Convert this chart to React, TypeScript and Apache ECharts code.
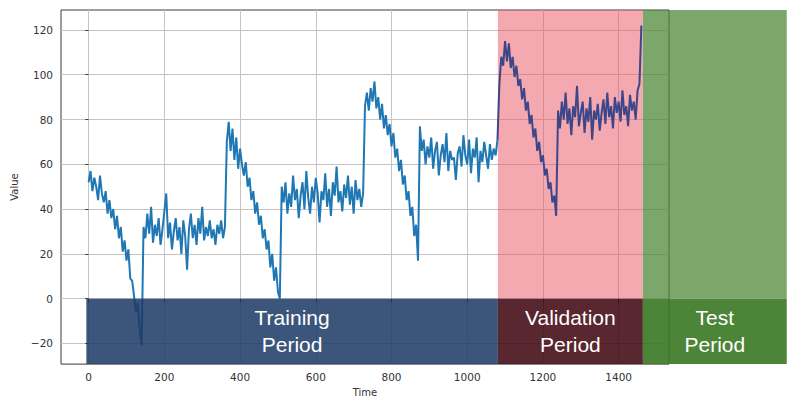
import React, { useEffect, useRef } from "react";
import * as echarts from "echarts";

const TIME_STEP = 5;
// t = 0 .. 140 : first decline
const seg1 = [52, 57, 48, 54, 50, 44, 55, 47, 43, 48, 38, 44, 36, 40, 31, 37, 27, 32, 21, 26, 17, 22, 9, 8, 1, -6, -2, -14, -21];
// t = 145 .. 360 : flat around 30
const seg2 = [32, 27, 38, 29, 41, 25, 33, 28, 36, 24, 31, 39, 47, 27, 34, 22, 30, 36, 26, 32, 20, 35, 28, 13, 31, 38, 27, 33, 24, 36, 29, 41, 26, 32, 28, 35, 27, 31, 24, 33, 29, 35, 27, 32];
// t = 365 .. 505 : second decline
const seg3 = [70, 79, 66, 76, 62, 72, 58, 67, 60, 55, 61, 50, 54, 44, 48, 38, 43, 33, 37, 27, 31, 22, 26, 14, 20, 8, 14, 3, 0];
// t = 510 .. 725 : flat around 46
const seg4 = [50, 43, 52, 38, 47, 41, 55, 44, 49, 36, 46, 52, 40, 57, 45, 38, 50, 43, 54, 47, 34, 48, 44, 56, 41, 49, 37, 52, 46, 59, 43, 48, 39, 51, 45, 55, 42, 50, 38, 53, 44, 49, 41, 47];
// t = 730 .. 870 : third decline
const seg5 = [86, 92, 84, 94, 88, 97, 85, 90, 80, 87, 76, 82, 73, 78, 68, 74, 63, 67, 57, 62, 51, 55, 44, 48, 37, 41, 28, 33, 17];
// t = 875 .. 1080 : flat around 65
const seg6 = [77, 66, 71, 60, 68, 63, 72, 58, 66, 70, 55, 64, 69, 61, 74, 57, 66, 62, 63, 53, 65, 68, 59, 73, 64, 60, 71, 56, 67, 63, 72, 52, 66, 61, 70, 64, 58, 69, 62, 67, 64, 71];
// t = 1085 .. 1235 : fourth decline
const seg7 = [96, 108, 104, 115, 106, 114, 103, 108, 99, 104, 95, 98, 89, 94, 84, 88, 78, 82, 72, 76, 66, 70, 61, 64, 55, 58, 49, 52, 43, 46, 37];
// t = 1240 .. 1460 : flat around 83, final jump
const seg8 = [84, 76, 88, 80, 92, 78, 85, 73, 86, 81, 95, 77, 83, 88, 74, 85, 79, 90, 71, 84, 80, 87, 75, 83, 89, 78, 92, 81, 86, 76, 90, 83, 88, 79, 93, 82, 86, 77, 91, 84, 88, 80, 93, 96, 122];

const VALUES = [...seg1, ...seg2, ...seg3, ...seg4, ...seg5, ...seg6, ...seg7, ...seg8];

const X_TICKS = [0, 200, 400, 600, 800, 1000, 1200, 1400];
const Y_TICKS = [-20, 0, 20, 40, 60, 80, 100, 120];
const X_RANGE = [-73, 1533];
const Y_RANGE = [-29.2, 128.9];

// Period boundaries (time units)
const PERIOD_NAMES = ["Training\nPeriod", "Validation\nPeriod", "Test\nPeriod"];
const PERIOD_BOUNDS = [
  [-6, 1081],
  [1081, 1464],
  [1464, 1844],
];

const UPPER_FILLS = [null, "rgba(233,83,97,0.5)", "rgba(77,136,56,0.74)"];
const LOWER_FILLS = ["rgba(28,58,101,0.86)", "rgba(62,4,14,0.86)", "rgba(56,120,34,0.9)"];

const fmt = (v: number) => (v < 0 ? "\u2212" + Math.abs(v) : String(v));

export default function App() {
  const ref = useRef<HTMLDivElement>(null);
  useEffect(() => {
    if (!ref.current) return;
    const chart = echarts.init(ref.current, null, { renderer: "svg" });
    const data = VALUES.map((v, i) => [i * TIME_STEP, v]);
    const split = PERIOD_BOUNDS[1][0];
    const trainData = data.filter((d) => d[0] <= split);
    const lastTrain = trainData[trainData.length - 1];
    const validData = [lastTrain, ...data.filter((d) => d[0] > split)];
    const labelStyle = { color: "#333", fontSize: 10, fontFamily: "DejaVu Sans" };
    chart.setOption({
      animation: false,
      backgroundColor: "#fff",
      grid: {
        left: 61,
        top: 10,
        width: 608,
        height: 355,
        show: true,
        borderColor: "#3a3a3a",
        borderWidth: 1,
        backgroundColor: "transparent",
      },
      xAxis: {
        type: "value",
        min: X_RANGE[0],
        max: X_RANGE[1],
        name: "Time",
        nameLocation: "middle",
        nameGap: 19,
        nameTextStyle: { ...labelStyle },
        axisLine: { show: false },
        axisTick: { show: true, length: 3.5, inside: false, customValues: X_TICKS, lineStyle: { color: "#444" } },
        axisLabel: { ...labelStyle, fontSize: 10.5, margin: 7, customValues: X_TICKS, formatter: fmt },
        splitLine: { show: true, lineStyle: { color: "#c4c4c4", width: 1 } },
      },
      yAxis: {
        type: "value",
        min: Y_RANGE[0],
        max: Y_RANGE[1],
        name: "Value",
        nameLocation: "middle",
        nameGap: 37,
        nameTextStyle: { ...labelStyle },
        axisLine: { show: false },
        axisTick: { show: true, length: 3.5, inside: false, customValues: Y_TICKS, lineStyle: { color: "#444" } },
        axisLabel: { ...labelStyle, fontSize: 10.5, margin: 8, customValues: Y_TICKS, formatter: fmt },
        splitLine: { show: true, lineStyle: { color: "#c4c4c4", width: 1 } },
      },
      series: [
        {
          type: "line",
          data: trainData,
          showSymbol: false,
          symbol: "none",
          color: "#1f77b4",
          lineStyle: { width: 2, color: "#1f77b4" },
          z: 3,
        },
        {
          type: "line",
          data: validData,
          showSymbol: false,
          symbol: "none",
          color: "#3d4689",
          lineStyle: { width: 2, color: "#3d4689" },
          z: 3,
        },
      ],
    });

    const px = (x: number, y: number) => chart.convertToPixel({ gridIndex: 0 }, [x, y]) as number[];
    const elements: any[] = [];
    PERIOD_BOUNDS.forEach((b, i) => {
      const pTop = px(b[0], Y_RANGE[1]);
      const pMid = px(b[1], 0);
      const pBot = px(b[1], Y_RANGE[0]);
      const x0 = pTop[0];
      const w = pMid[0] - x0;
      if (UPPER_FILLS[i]) {
        elements.push({
          type: "rect",
          z: i === 1 ? 1 : 10,
          silent: true,
          shape: { x: x0, y: pTop[1], width: w, height: pMid[1] - pTop[1] },
          style: { fill: UPPER_FILLS[i] },
        });
      }
      elements.push({
        type: "rect",
        z: 10,
        silent: true,
        shape: { x: x0, y: pMid[1], width: w, height: pBot[1] - pMid[1] },
        style: { fill: LOWER_FILLS[i] },
      });
      elements.push({
        type: "text",
        z: 11,
        silent: true,
        x: x0 + w / 2,
        y: (pMid[1] + pBot[1]) / 2,
        style: {
          text: PERIOD_NAMES[i],
          fill: "#fff",
          fontSize: 21,
          lineHeight: 27,
          fontFamily: "Liberation Sans, Arial, sans-serif",
          align: "center",
          verticalAlign: "middle",
        },
      });
    });
    chart.setOption({ graphic: { elements } });
    return () => chart.dispose();
  }, []);
  return <div ref={ref} style={{ position: "absolute", left: 0, top: 0, width: 796, height: 402 }} />;
}
